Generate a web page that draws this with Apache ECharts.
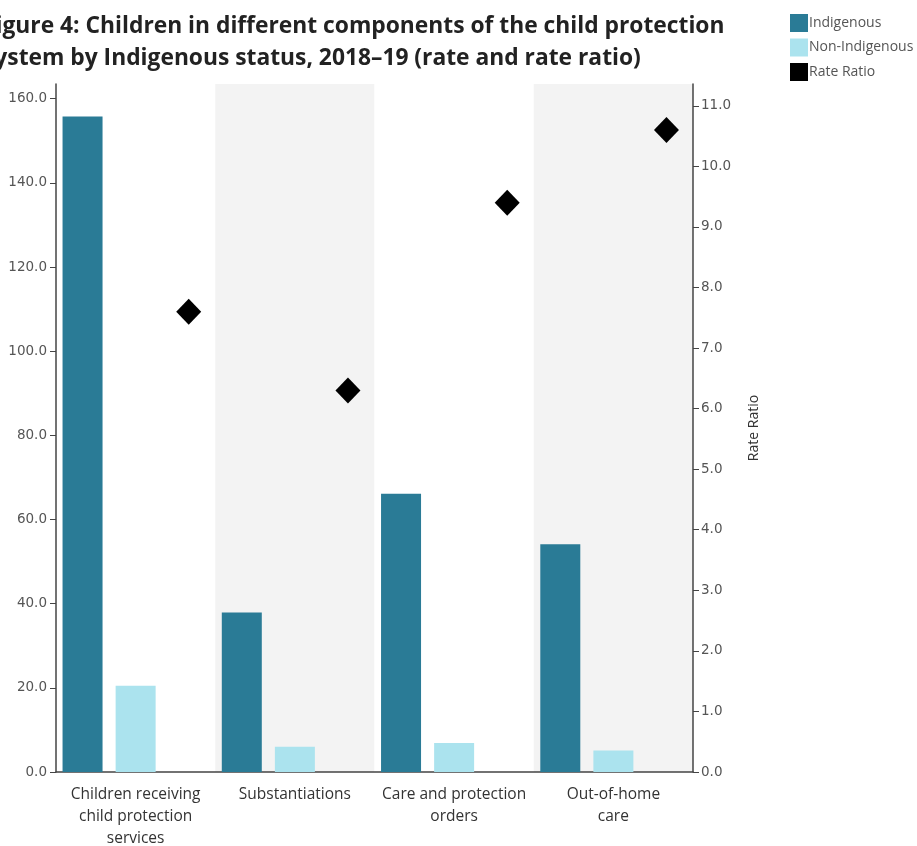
<!DOCTYPE html>
<html>
<head>
<meta charset="utf-8">
<script src="https://cdn.jsdelivr.net/npm/echarts@6/dist/echarts.min.js"></script>
<style>html,body{margin:0;padding:0;background:#fff;}#c{width:917px;height:846px;}</style>
</head>
<body>
<div id="c"></div>
<script>
const categories = ['Children receiving\nchild protection\nservices', 'Substantiations', 'Care and protection\norders', 'Out-of-home\ncare'];
const indigenous = [155.8, 37.9, 66.1, 54.1];
const nonIndigenous = [20.5, 6.0, 6.9, 5.1];
const rateRatio = [7.6, 6.3, 9.4, 10.6];
const leftTicks = [0, 20, 40, 60, 80, 100, 120, 140, 160];
const rightTicks = [0, 1, 2, 3, 4, 5, 6, 7, 8, 9, 10, 11];

const chart = echarts.init(document.getElementById('c'), null, {renderer: 'canvas'});
const gridL = 56, gridR = 224;
const bandW = (917 - gridL - gridR) / categories.length;
chart.setOption({
  animation: false,
  backgroundColor: '#fff',
  title: {
    text: 'Figure 4: Children in different components of the child protection\nsystem by Indigenous status, 2018–19 (rate and rate ratio)',
    left: -22, top: 6,
    textStyle: {fontFamily: 'Open Sans', fontWeight: 'bold', fontSize: 22.8, color: '#222', lineHeight: 32}
  },
  legend: {
    data: ['Indigenous', 'Non-Indigenous', 'Rate Ratio'],
    orient: 'vertical', left: 785, top: 9,
    icon: 'rect', itemWidth: 18, itemHeight: 18, itemGap: 6.5,
    itemStyle: {opacity: 1},
    textStyle: {fontFamily: 'Open Sans', fontSize: 14, color: '#555', padding: [0, 0, 0, -4]}
  },
  grid: {left: gridL, right: gridR, top: 84, bottom: 74, outerBoundsMode: 'none', containLabel: false},
  xAxis: {
    type: 'category', data: categories,
    axisLine: {lineStyle: {color: '#444', width: 1.5}},
    axisTick: {show: false},
    axisLabel: {fontFamily: 'Open Sans', fontSize: 15.5, color: '#333', lineHeight: 22, margin: 12, interval: 0},
    splitArea: {show: true, areaStyle: {color: ['#ffffff', '#f3f3f3']}},
    splitLine: {show: false}
  },
  yAxis: [{
    type: 'value', min: 0, max: 163.5, position: 'left',
    axisLine: {show: true, lineStyle: {color: '#444', width: 1.5}},
    axisTick: {show: true, length: 6, customValues: leftTicks, lineStyle: {color: '#444'}},
    axisLabel: {customValues: leftTicks, formatter: v => v.toFixed(1), fontFamily: 'DejaVu Sans', fontSize: 13.5, color: '#555', margin: 9},
    splitLine: {show: false}
  }, {
    type: 'value', min: 0, max: 11.36, position: 'right',
    name: 'Rate Ratio', nameLocation: 'middle', nameRotate: 90, nameGap: 54,
    nameTextStyle: {fontFamily: 'Open Sans', fontSize: 14, color: '#333'},
    axisLine: {show: true, lineStyle: {color: '#444', width: 1.5}},
    axisTick: {show: true, length: 6, customValues: rightTicks, lineStyle: {color: '#444'}},
    axisLabel: {customValues: rightTicks, formatter: v => v.toFixed(1), fontFamily: 'DejaVu Sans', fontSize: 13.5, color: '#555', margin: 8},
    splitLine: {show: false}
  }],
  series: [{
    name: 'Indigenous', type: 'bar', data: indigenous, barWidth: 40, barGap: '32.7%',
    itemStyle: {color: '#2a7b96'}
  }, {
    name: 'Non-Indigenous', type: 'bar', data: nonIndigenous, barWidth: 40, barGap: '32.7%',
    itemStyle: {color: '#abe3ee'}
  }, {
    name: 'slot', type: 'bar', data: rateRatio.map(() => null), barWidth: 40, barGap: '32.7%', silent: true
  }, {
    name: 'Rate Ratio', type: 'scatter', yAxisIndex: 1, data: rateRatio,
    symbol: 'diamond', symbolSize: [25, 26], symbolOffset: [bandW / 3, 0],
    itemStyle: {color: '#000', opacity: 1}
  }]
});
</script>
</body>
</html>
